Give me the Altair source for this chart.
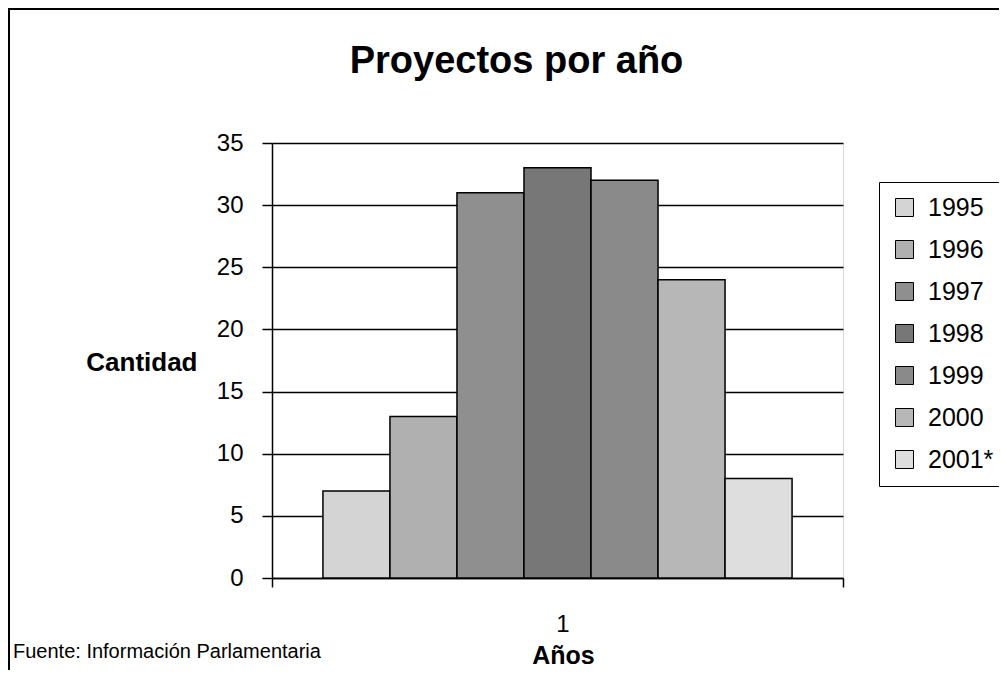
import altair as alt
import pandas as pd

years = ["1995", "1996", "1997", "1998", "1999", "2000", "2001*"]
values = [7, 13, 31, 33, 32, 24, 8]
colors = ["#d4d4d4", "#b0b0b0", "#8f8f8f", "#777777", "#8a8a8a", "#b7b7b7", "#dedede"]
category = "1"
title_text = "Proyectos por año"
y_title = "Cantidad"
x_title = "Años"
source_text = "Fuente: Información Parlamentaria"

FONT = "Liberation Sans"

df = pd.DataFrame({"cat": [category] * len(years), "year": years, "value": values})

bars = alt.Chart(df).mark_bar(stroke="black", strokeWidth=1.5, opacity=1).encode(
    x=alt.X(
        "cat:N",
        scale=alt.Scale(paddingInner=0, paddingOuter=0),
        axis=alt.Axis(
            title=x_title,
            labelAngle=0,
            tickBand="extent",
            tickSize=9,
            tickColor="black",
            tickWidth=1.5,
            domainColor="black",
            domainWidth=1.5,
            labelFontSize=24,
            labelFont=FONT,
            labelColor="black",
            labelPadding=25,
            labelOffset=5,
            titleFontSize=25,
            titleFont=FONT,
            titleFontWeight="bold",
            titleColor="black",
            titlePadding=7,
            titleX=291,
            grid=False,
        ),
    ),
    xOffset=alt.XOffset(
        "year:N",
        sort=years,
        scale=alt.Scale(paddingOuter=0.76, paddingInner=0),
    ),
    y=alt.Y(
        "value:Q",
        scale=alt.Scale(domain=[0, 35], nice=False),
        axis=alt.Axis(
            values=[0, 5, 10, 15, 20, 25, 30, 35],
            title=y_title,
            titleAngle=0,
            titleAlign="right",
            titleBaseline="middle",
            titleX=-75,
            titleY=219,
            titleFontSize=26,
            titleFont=FONT,
            titleFontWeight="bold",
            titleColor="black",
            tickSize=10,
            tickColor="black",
            tickWidth=1.5,
            domainColor="black",
            domainWidth=1.5,
            labelFontSize=24,
            labelFont=FONT,
            labelColor="black",
            labelPadding=19,
            grid=True,
            gridColor="black",
            gridWidth=1.5,
        ),
    ),
    color=alt.Color(
        "year:N",
        sort=years,
        scale=alt.Scale(domain=years, range=colors),
        legend=alt.Legend(
            title=None,
            orient="none",
            legendX=607,
            legendY=39,
            strokeColor="black",
            fillColor="white",
            padding=13,
            symbolType="square",
            symbolSize=324,
            symbolStrokeColor="black",
            symbolStrokeWidth=1,
            symbolOpacity=1,
            labelFontSize=25,
            labelFont=FONT,
            labelColor="black",
            labelOffset=11,
            rowPadding=16,
        ),
    ),
)

one = pd.DataFrame({"t": [source_text]})

source = alt.Chart(one).mark_text(
    align="left", baseline="middle", fontSize=20, font=FONT, color="black"
).encode(x=alt.value(-259), y=alt.value(509), text="t:N")

frame_top = alt.Chart(one).mark_rule(color="black", strokeWidth=2).encode(
    x=alt.value(-264), x2=alt.value(730), y=alt.value(-134)
)
frame_left = alt.Chart(one).mark_rule(color="black", strokeWidth=2).encode(
    x=alt.value(-263), y=alt.value(-135), y2=alt.value(540)
)

chart = alt.layer(bars, source, frame_top, frame_left).properties(
    width=571,
    height=435,
    autosize=alt.AutoSizeParams(type="none"),
    padding={"left": 264, "top": 135, "right": 156, "bottom": 92},
    title=alt.TitleParams(
        title_text,
        fontSize=38,
        font=FONT,
        fontWeight="bold",
        color="black",
        anchor="middle",
        dx=-41,
        offset=-104,
        baseline="alphabetic",
    ),
).configure_view(stroke="#808080", strokeWidth=1.5).configure(background="white")

chart.save("out.html", embed_options={"renderer": "svg", "actions": False})
